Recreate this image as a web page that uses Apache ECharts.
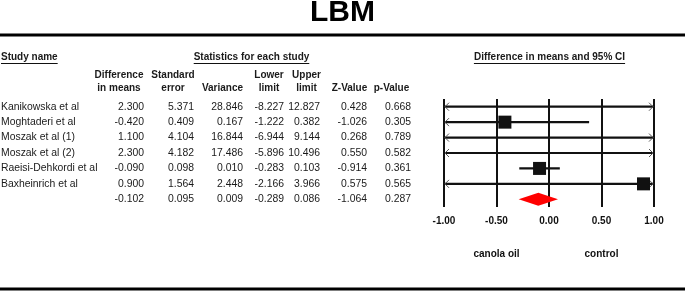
<!DOCTYPE html>
<html>
<head>
<meta charset="utf-8">
<script src="https://cdn.jsdelivr.net/npm/echarts@6/dist/echarts.min.js"></script>
<style>
  html, body { margin: 0; padding: 0; background: #fff; }
  #chart { width: 685px; height: 292px; }
</style>
</head>
<body>
<div id="chart"></div>
<script>
// study data (last row = summary)
const studies = ['Kanikowska et al', 'Moghtaderi et al', 'Moszak et al (1)', 'Moszak et al (2)',
  'Raeisi-Dehkordi et al', 'Baxheinrich et al', '']
const diffMeans = [2.300, -0.420, 1.100, 2.300, -0.090, 0.900, -0.102]
const stdError = [5.371, 0.409, 4.104, 4.182, 0.098, 1.564, 0.095]
const variance = [28.846, 0.167, 16.844, 17.486, 0.010, 2.448, 0.009]
const lowerLimit = [-8.227, -1.222, -6.944, -5.896, -0.283, -2.166, -0.289]
const upperLimit = [12.827, 0.382, 9.144, 10.496, 0.103, 3.966, 0.086]
const zValue = [0.428, -1.026, 0.268, 0.550, -0.914, 0.575, -1.064]
const pValue = [0.668, 0.305, 0.789, 0.582, 0.361, 0.565, 0.287]
const xTicks = [-1, -0.5, 0, 0.5, 1]
const favours = { '-0.5': 'canola oil', '0.5': 'control' }

const FONT = '"Liberation Sans", Arial, sans-serif'
const FS = 10.4   // table values
const FB = 10     // bold headers and axis labels

// table layout
const colRight = [144, 194, 243, 284, 320, 367, 411]
const colCenter = [119, 173, 222.5, 269, 306.5, 349.5, 391.5]
const colHead = [['Difference', 'in means'], ['Standard', 'error'], ['', 'Variance'],
  ['Lower', 'limit'], ['Upper', 'limit'], ['', 'Z-Value'], ['', 'p-Value']]
const columns = [diffMeans, stdError, variance, lowerLimit, upperLimit, zValue, pValue]

const measure = (() => {
  const ctx = document.createElement('canvas').getContext('2d')
  return (text, size, weight) => {
    ctx.font = (weight || 'normal') + ' ' + size + 'px ' + FONT
    return ctx.measureText(text).width
  }
})()

const chart = echarts.init(document.getElementById('chart'), null, { renderer: 'canvas' })

function txt(text, x, y, opts) {
  return {
    type: 'text',
    style: Object.assign({
      text, x, y,
      fontSize: FS, fontFamily: FONT, fill: '#1a1a1a',
      align: 'left', verticalAlign: 'middle'
    }, opts || {})
  }
}

function bold(text, x, y, align) {
  return txt(text, x, y, { fontSize: FB, fontWeight: 'bold', align: align || 'left' })
}

function underlined(text, x, y, align) {
  const w = measure(text, FB, 'bold')
  const x0 = align === 'center' ? x - w / 2 : x
  return [
    bold(text, x, y, align),
    { type: 'line', shape: { x1: x0, y1: y + 6.5, x2: x0 + w, y2: y + 6.5 }, style: { stroke: '#111', lineWidth: 1 } }
  ]
}

const graphics = [
  txt('LBM', 342.5, 13, { fontSize: 30, fontWeight: 'bold', align: 'center', fill: '#000' }),
  { type: 'line', shape: { x1: 0, y1: 35, x2: 685, y2: 35 }, style: { stroke: '#000', lineWidth: 3 } },
  { type: 'line', shape: { x1: 0, y1: 289, x2: 685, y2: 289 }, style: { stroke: '#000', lineWidth: 3 } }
]
  .concat(underlined('Study name', 1, 57))
  .concat(underlined('Statistics for each study', 251.5, 57, 'center'))
  .concat(underlined('Difference in means and 95% CI', 549.5, 57, 'center'))

colHead.forEach((h, i) => {
  if (h[0]) graphics.push(bold(h[0], colCenter[i], 75.5, 'center'))
  graphics.push(bold(h[1], colCenter[i], 88, 'center'))
})

const XMIN = -1
const XMAX = 1
const clamp = v => Math.max(XMIN, Math.min(XMAX, v))

function tableItem(params, api) {
  const i = params.dataIndex
  const y = api.coord([0, i])[1]
  const children = [txt(studies[i], 1, y)]
  columns.forEach((col, c) => {
    children.push(txt(col[i].toFixed(3), colRight[c], y, { align: 'right' }))
  })
  return { type: 'group', children }
}

function forestItem(params, api) {
  const i = params.dataIndex
  const lo = lowerLimit[i]
  const hi = upperLimit[i]
  const m = diffMeans[i]
  const p1 = api.coord([clamp(lo), i])
  const p2 = api.coord([clamp(hi), i])
  const y = p1[1]
  const children = [{
    type: 'line',
    shape: { x1: p1[0], y1: y, x2: p2[0], y2: y },
    style: { stroke: '#111', lineWidth: 2.2 }
  }]
  if (lo < XMIN) {
    children.push({ type: 'polyline', shape: { points: [[p1[0] + 5, y - 4], [p1[0] + 1, y], [p1[0] + 5, y + 4]] },
      style: { stroke: '#555', lineWidth: 1, fill: null } })
  }
  if (hi > XMAX) {
    children.push({ type: 'polyline', shape: { points: [[p2[0] - 5, y - 4], [p2[0] - 1, y], [p2[0] - 5, y + 4]] },
      style: { stroke: '#555', lineWidth: 1, fill: null } })
  }
  if (m >= XMIN && m <= XMAX) {
    const c = api.coord([m, i])
    children.push({ type: 'rect', shape: { x: c[0] - 6.5, y: y - 6.5, width: 13, height: 13 },
      style: { fill: '#111' } })
  }
  return { type: 'group', children }
}

function diamondItem(params, api) {
  const i = studies.length - 1
  const l = api.coord([lowerLimit[i], i])
  const c = api.coord([diffMeans[i], i])
  const r = api.coord([upperLimit[i], i])
  const y = c[1]
  return {
    type: 'polygon',
    shape: { points: [[l[0], y], [c[0], y - 6.5], [r[0], y], [c[0], y + 6.5]] },
    style: { fill: '#ff0000' }
  }
}

const option = {
  animation: false,
  backgroundColor: '#fff',
  grid: { left: 444, width: 210, top: 99, height: 108, containLabel: false },
  xAxis: [
    {
      type: 'value', min: XMIN, max: XMAX, interval: 0.5,
      axisLine: { show: false }, axisTick: { show: false },
      splitLine: { show: true, lineStyle: { color: '#111', width: 2 } },
      axisLabel: {
        margin: 9, fontFamily: FONT, fontSize: FB, fontWeight: 'bold', color: '#111',
        formatter: v => xTicks.indexOf(v) >= 0 ? v.toFixed(2) : ''
      }
    },
    {
      type: 'value', min: XMIN, max: XMAX, interval: 0.5, position: 'bottom', offset: 42,
      axisLine: { show: false }, axisTick: { show: false }, splitLine: { show: false },
      axisLabel: {
        margin: 0, fontFamily: FONT, fontSize: FB, fontWeight: 'bold', color: '#111',
        formatter: v => favours[String(v)] || ''
      }
    }
  ],
  yAxis: {
    type: 'category', inverse: true, data: studies,
    axisLine: { show: false }, axisTick: { show: false }, axisLabel: { show: false },
    splitLine: { show: false }
  },
  graphic: graphics,
  series: [
    {
      type: 'custom', name: 'table', clip: false,
      data: studies.map((s, i) => [0, i]),
      renderItem: tableItem, silent: true
    },
    {
      type: 'custom', name: 'studies', clip: false,
      data: studies.slice(0, -1).map((s, i) => [diffMeans[i], i]),
      renderItem: forestItem, silent: true
    },
    {
      type: 'custom', name: 'summary', clip: false,
      data: [[diffMeans[studies.length - 1], studies.length - 1]],
      renderItem: diamondItem, silent: true
    }
  ]
}

chart.setOption(option)
</script>
</body>
</html>
